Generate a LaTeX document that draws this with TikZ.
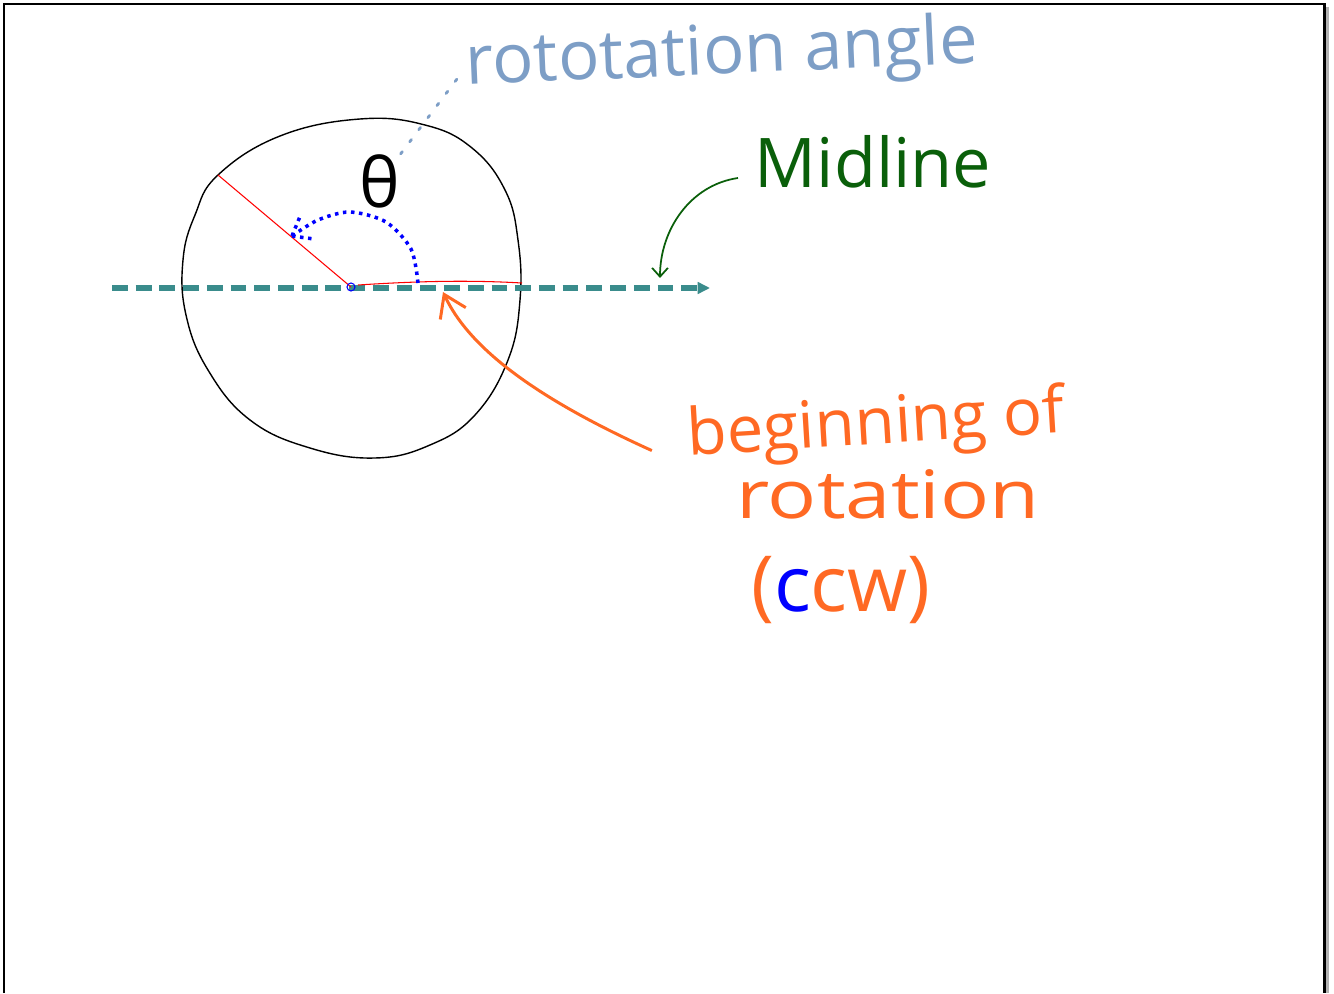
\documentclass[tikz,border=0pt]{standalone}
\usepackage{fontspec}
\setmainfont{Open Sans}
\usetikzlibrary{arrows.meta,positioning}
\definecolor{midteal}{RGB}{58,140,140}
\definecolor{note}{RGB}{125,158,198}
\definecolor{leaf}{RGB}{10,95,10}
\definecolor{tang}{RGB}{255,105,35}

\begin{document}
\begin{tikzpicture}[x=0.02cm, y=-0.02cm,
  hand/.style={inner sep=0pt, font=\fontsize{#1}{#1}\selectfont},
  hand/.default=38,
  wheel/.style={black, line width=0.8pt},
  ray/.style={red, line width=0.6pt},
  spin/.style={blue, line width=2pt, dash pattern=on 2pt off 2.6pt},
  midline/.style={midteal, line width=2.9pt, dash pattern=on 9pt off 4.5pt, -{Triangle[length=7pt,width=6.5pt]}}]
\useasboundingbox (0,0) rectangle (1334,993);
% page frame
\draw[gray!60, line width=2pt] (1327,7) -- (1327,993);
\draw[line width=1.7pt] (4,993) -- (4,4) -- (1324,4) -- (1324,993);

% wheel and midline
\coordinate (o) at (351,287);
\draw[wheel] plot[smooth cycle, tension=0.7] coordinates {(218,175) (280,136) (360,119) (425,125) (472,148) (505,190) (518,240) (520,300) (508,360) (475,415) (430,445) (375,458) (310,448) (250,420) (208,370) (186,315) (183,260) (195,215)};
\coordinate (mL) at (112,288);
\coordinate (mR) at (710,288);
\draw[midline] (mL) -- (mR);
\draw[ray] (o) -- (218,175);
\draw[ray] (358,285) .. controls (420,281) and (470,280) .. (522,283);
\draw[blue, line width=0.6pt] (o) circle (4);

% angle
\coordinate (s) at (418,283);
\coordinate (e) at (292,236);
\draw[spin] plot[smooth] coordinates {(s) (411,249) (386,222) (350,212) (318,220) (e)};
\draw[spin] (e) -- (301,214);
\draw[spin] (e) -- (314,239);
\node[hand=39] (th) at (380,181) {θ};

% labels
\node[hand=39, note, rotate=2.5] (ang) at (722,56) {rototation angle};
\draw[note, line width=1.6pt, dash pattern=on 1.6pt off 7pt, line cap=round, shorten >=5pt] (th.north east) -- (ang.west);
\node[hand=39, leaf] (mid) at (873,162) {Midline};
\draw[leaf, line width=1pt, -{Straight Barb[length=5pt,width=9pt]}] (738,178) .. controls (690,185) and (660,230) .. (660,278);
\node[hand=37, tang, rotate=3.5] (beg) at (876,427) {beginning of};
\node[hand=38, tang] (rot) at (888,494) {\scalebox{1.22}[1]{rotation}};
\node[hand=44, tang] (ccw) at (841,590) {(\textcolor{blue}{c}cw)};
\coordinate (st) at (443,292);
\draw[tang, line width=1.7pt, -{Straight Barb[length=12pt,width=16pt]}] (beg.west) ++(-35,12) .. controls (540,400) and (470,350) .. (st);
\end{tikzpicture}
\end{document}
